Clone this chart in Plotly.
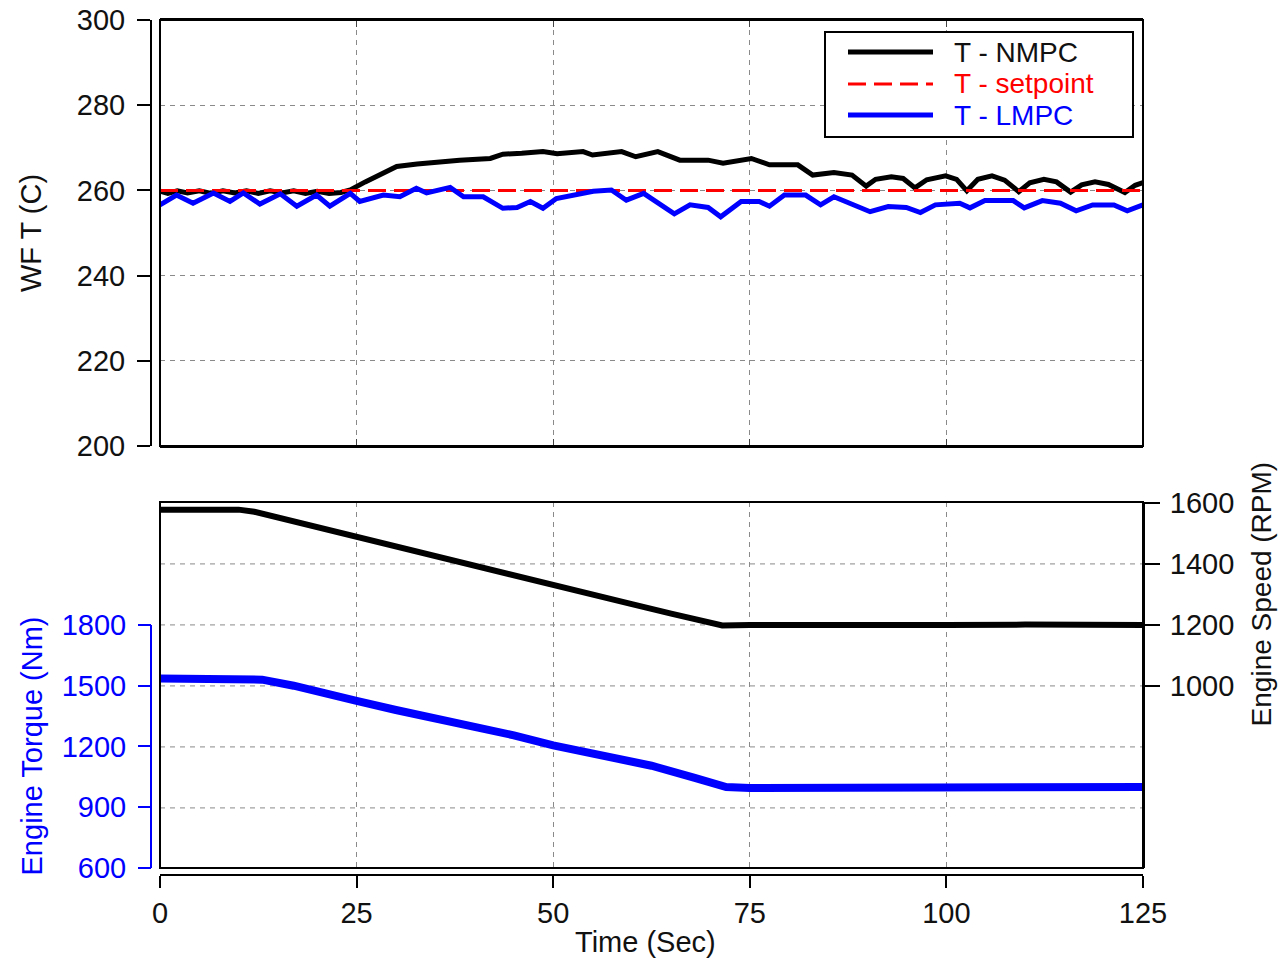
import plotly.graph_objects as go

# ---------------- data ----------------
t_nmpc = [0, 1, 2.2, 3.5, 5, 6.5, 8, 9.5, 11, 12.5, 14, 15.5, 17, 18.5, 20, 21.5, 23, 24.2,
          26.1, 28.4, 30.1, 32.7, 35.2, 38.1, 42, 43.6, 46, 48.7, 50.5, 53.8, 55, 58.7, 60.5,
          63.3, 66.1, 69.7, 71.6, 75.2, 77.5, 81.1, 83, 85.7, 88, 89.8, 91, 93, 94.5, 96,
          97.5, 99.9, 101.3, 102.6, 104, 105.8, 107.4, 109.2, 110.6, 112.4, 114, 115.8,
          117.2, 118.9, 120.6, 122.7, 124, 125]
wf_nmpc = [259.8, 259.3, 259.9, 259.4, 259.9, 259.3, 259.9, 259.4, 259.9, 259.3, 259.9, 259.4,
           259.9, 259.3, 259.8, 259.3, 259.5, 260.1,
           262.0, 264.0, 265.6, 266.2, 266.7, 267.1, 267.5, 268.5, 268.7, 269.1, 268.6, 269.1,
           268.3, 269.1, 267.9, 269.1, 267.1, 267.1, 266.4, 267.5, 266.0, 266.0, 263.6, 264.2,
           263.6, 261.0, 262.6, 263.2, 262.8, 260.6, 262.5, 263.4, 262.6, 259.9, 262.6, 263.4,
           262.4, 259.7, 261.8, 262.6, 262.0, 259.6, 261.3, 262.0, 261.4, 259.5, 261.2, 261.8]

t_set = [0, 125]
wf_set = [260, 260]

t_lmpc = [0, 2.1, 4.2, 6.8, 8.9, 10.6, 12.7, 15.3, 17.4, 19.9, 21.6, 24.2, 25.4, 28.4, 30.5,
          32.6, 33.9, 36.9, 38.6, 41.1, 43.6, 45.4, 47.1, 48.7, 50.4, 53, 55.1, 57.4, 59.3,
          61.5, 65.4, 67.4, 69.7, 71.3, 73.9, 76.2, 77.5, 79.4, 82.1, 84, 85.7, 90.3, 92.6,
          94.9, 96.7, 98.6, 101.7, 103, 104.9, 108.5, 109.9, 112.2, 114.5, 116.5, 118.6,
          121.3, 123, 125]
wf_lmpc = [256.6, 258.9, 257.0, 259.4, 257.4, 259.4, 256.8, 259.2, 256.3, 258.9, 256.3, 259.3,
           257.4, 258.9, 258.5, 260.5, 259.4, 260.7, 258.5, 258.5, 255.8, 256.0, 257.4, 255.8,
           258.1, 258.9, 259.8, 260.1, 257.7, 259.3, 254.5, 256.6, 256.0, 253.8, 257.4, 257.4,
           256.3, 258.9, 258.9, 256.6, 258.5, 255.0, 256.2, 256.0, 254.8, 256.6, 257.0, 255.9,
           257.6, 257.6, 255.9, 257.6, 257.0, 255.2, 256.6, 256.6, 255.2, 256.6]

t_speed = [0, 5, 10, 12, 15, 20, 25, 30, 40, 50, 60, 65, 70, 71.5, 75, 80, 90, 100, 110, 120, 125]
speed = [1578, 1577, 1578, 1571, 1552, 1518, 1485, 1455, 1392, 1330, 1268, 1237, 1204, 1198,
         1200, 1201, 1199, 1200, 1201, 1200, 1200]

t_torque = [0, 5, 10, 13, 17, 20, 25, 30, 37.5, 45, 50, 55, 62.5, 68, 72, 75, 85, 100, 110, 125]
torque = [1535, 1533, 1538, 1530, 1500, 1475, 1425, 1380, 1320, 1255, 1205, 1165, 1105, 1045,
          1000, 995, 998, 1000, 1000, 1000]

x_ticks = [0, 25, 50, 75, 100, 125]
wf_ticks = [200, 220, 240, 260, 280, 300]
torque_ticks = [600, 900, 1200, 1500, 1800]
speed_ticks = [1000, 1200, 1400, 1600]
speed_grid = [600, 800, 1000, 1200, 1400]

legend_names = ["T - NMPC", "T - setpoint", "T - LMPC"]

# ---------------- layout geometry (body margin removed, so screen == figure px) ----------------
W, H = 1282, 960
ML, MR, MT, MB = 151, 139, 20, 85
PW, PH = W - ML - MR, H - MT - MB


def px(sx):   # screen x -> paper x
    return (sx - ML) / PW


def py(sy):   # screen y -> paper y
    return (H - MB - sy) / PH


XD0 = px(160)
TOP_D = [py(446), 1]
BOT_D = [py(868), py(502)]

FONT = "Liberation Sans, Arial, sans-serif"
FS = 29
GRID = "#8a8a8a"
BLUE = "#0000ff"
RED = "#ff0000"
DARK = "#111111"

styles = [dict(color="black", width=5), dict(color=RED, width=3, dash="18px,8px"),
          dict(color=BLUE, width=5)]

fig = go.Figure()
fig.add_trace(go.Scatter(x=t_nmpc, y=wf_nmpc, mode="lines", name=legend_names[0],
                         line=styles[0], xaxis="x", yaxis="y"))
fig.add_trace(go.Scatter(x=t_set, y=wf_set, mode="lines", name=legend_names[1],
                         line=styles[1], xaxis="x", yaxis="y"))
fig.add_trace(go.Scatter(x=t_lmpc, y=wf_lmpc, mode="lines", name=legend_names[2],
                         line=styles[2], xaxis="x", yaxis="y"))
fig.add_trace(go.Scatter(x=t_torque, y=torque, mode="lines", name="Engine Torque",
                         line=dict(color=BLUE, width=8), xaxis="x2", yaxis="y3"))
fig.add_trace(go.Scatter(x=t_speed, y=speed, mode="lines", name="Engine Speed",
                         line=dict(color="black", width=6), xaxis="x2", yaxis="y4"))

tf = dict(family=FONT, size=FS, color=DARK)

fig.update_layout(
    width=W, height=H, margin=dict(l=ML, r=MR, t=MT, b=MB, autoexpand=False),
    paper_bgcolor="white", plot_bgcolor="white", showlegend=False,
    font=dict(family=FONT, size=FS, color=DARK),
    xaxis=dict(domain=[XD0, 1], anchor="y", range=[0, 125], tickvals=x_ticks,
               showticklabels=False, ticks="inside", ticklen=7, tickcolor="#444",
               showline=True, linecolor="black", linewidth=2, mirror="ticks",
               showgrid=True, gridcolor=GRID, griddash="5px,5px", gridwidth=1, zeroline=False),
    yaxis=dict(domain=TOP_D, anchor="free", position=0, range=[200, 300], tickvals=wf_ticks,
               ticks="outside", ticklen=13, tickwidth=2, tickcolor="black",
               showline=True, linecolor="black", linewidth=2,
               showgrid=True, gridcolor=GRID, griddash="5px,5px", gridwidth=1, zeroline=False,
               tickfont=tf, ticklabelstandoff=6, ticklabeloverflow="allow",
               title=dict(text="WF T (C)", font=tf, standoff=26)),
    yaxis2=dict(overlaying="y", side="right", anchor="x", range=[200, 300], tickvals=wf_ticks,
                showticklabels=False, ticks="inside", ticklen=7, tickcolor="#444",
                showgrid=False, zeroline=False, showline=False),
    xaxis2=dict(domain=[XD0, 1], anchor="free", position=0, range=[0, 125], tickvals=x_ticks,
                ticks="outside", ticklen=12, tickwidth=2, tickcolor="black",
                showline=True, linecolor="black", linewidth=2,
                showgrid=True, gridcolor=GRID, griddash="5px,5px", gridwidth=1, zeroline=False,
                tickfont=tf, ticklabeloverflow="allow"),
    xaxis3=dict(overlaying="x2", anchor="y3", range=[0, 125], tickvals=x_ticks,
                showticklabels=False, ticks="inside", ticklen=7, tickcolor="#444",
                showline=True, linecolor="black", linewidth=2, mirror="ticks",
                showgrid=False, zeroline=False),
    yaxis3=dict(domain=BOT_D, anchor="free", position=0, range=[600, 2407],
                tickvals=torque_ticks, ticks="outside", ticklen=13, tickwidth=2, tickcolor=BLUE,
                showline=False, showgrid=False, zeroline=False,
                tickfont=dict(family=FONT, size=FS, color=BLUE), ticklabelstandoff=6),
    yaxis4=dict(overlaying="y3", side="right", anchor="x2", range=[403, 1603],
                tickvals=speed_ticks, ticks="outside", ticklen=15, tickwidth=2, tickcolor="black",
                showline=True, linecolor="black", linewidth=2, ticklabeloverflow="allow",
                showgrid=False, zeroline=False, tickfont=tf, ticklabelstandoff=4),
)

shapes = [
    dict(type="rect", xref="x domain", yref="y domain", x0=0, x1=1, y0=0, y1=1,
         line=dict(color="black", width=2), layer="above"),
    dict(type="rect", xref="x2 domain", yref="y3 domain", x0=0, x1=1, y0=0, y1=1,
         line=dict(color="black", width=2), layer="above"),
    dict(type="line", xref="paper", yref="y3", x0=0, x1=0,
         y0=torque_ticks[0], y1=torque_ticks[-1], line=dict(color=BLUE, width=2)),
]
for g in speed_grid:
    shapes.append(dict(type="line", xref="x2 domain", yref="y4", x0=0, x1=1, y0=g, y1=g,
                       line=dict(color=GRID, width=1, dash="5px,5px"), layer="below"))

# legend box drawn by hand (tight row spacing as in the original)
shapes.append(dict(type="rect", xref="paper", yref="paper", x0=px(825), x1=px(1133),
                   y0=py(137), y1=py(32), line=dict(color="black", width=2),
                   fillcolor="white", layer="above"))
annotations = []
row_y = [52, 84, 115]
text_cols = [DARK, RED, BLUE]
for i, name in enumerate(legend_names):
    shapes.append(dict(type="line", xref="paper", yref="paper", x0=px(848), x1=px(933),
                       y0=py(row_y[i]), y1=py(row_y[i]), line=styles[i], layer="above"))
    annotations.append(dict(xref="paper", yref="paper", x=px(952), y=py(row_y[i]),
                            xanchor="left", yanchor="middle", showarrow=False, text=name,
                            font=dict(family=FONT, size=28, color=text_cols[i])))

# axis titles placed at the centre of each tick range
annotations.append(dict(xref="paper", yref="y3", x=px(32), y=1200, textangle=-90,
                        xanchor="center", yanchor="middle", showarrow=False,
                        text="Engine Torque (Nm)", font=dict(family=FONT, size=FS, color=BLUE)))
annotations.append(dict(xref="paper", yref="y4", x=px(1261), y=1300, textangle=-90,
                        xanchor="center", yanchor="middle", showarrow=False,
                        text="Engine Speed (RPM)", font=dict(family=FONT, size=28, color=DARK)))
annotations.append(dict(xref="paper", yref="paper", x=px(645), y=py(942),
                        xanchor="center", yanchor="middle", showarrow=False,
                        text="Time (Sec)", font=tf))

fig.update_layout(shapes=shapes, annotations=annotations)

fig.write_html("out.html", config={"displayModeBar": False},
               post_script="document.body.style.margin='0';document.body.style.overflow='hidden';")
